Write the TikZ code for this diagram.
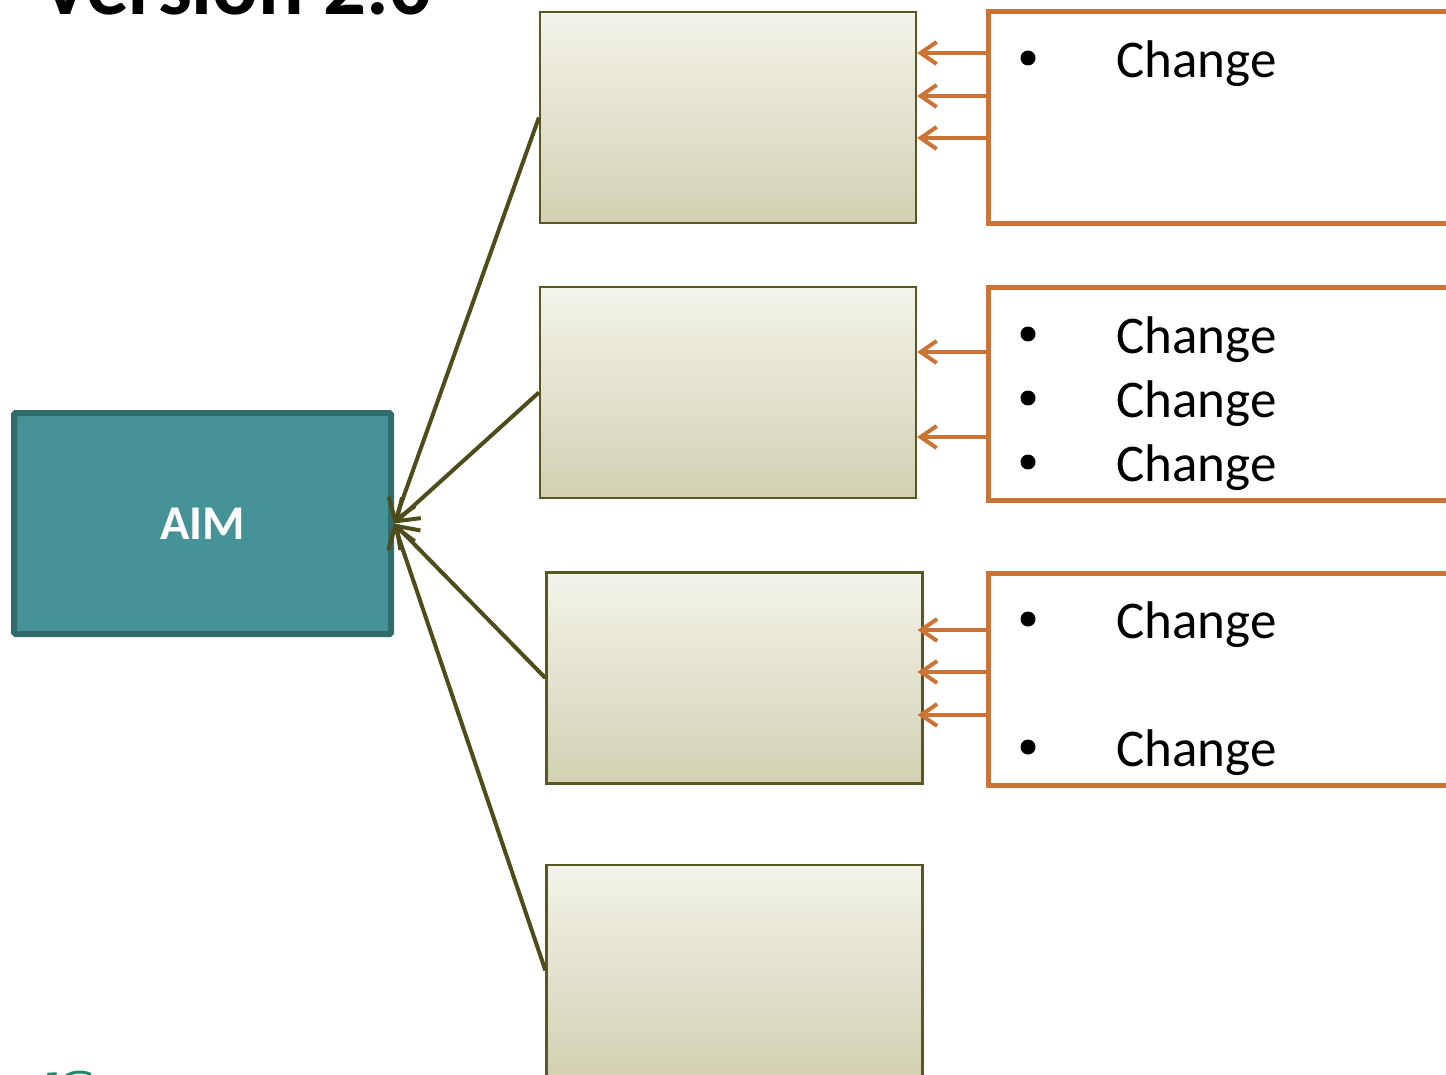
\documentclass[tikz,border=0pt]{standalone}
\usepackage{fontspec}
\setmainfont{Carlito}
\usetikzlibrary{arrows.meta}
\definecolor{aimfill}{HTML}{459396}
\definecolor{aimline}{HTML}{316B6C}
\definecolor{olive}{HTML}{5A5822}
\definecolor{oliveln}{HTML}{4E4C1A}
\definecolor{beigetop}{HTML}{F3F3EA}
\definecolor{beigebot}{HTML}{D3D1B2}
\definecolor{rust}{HTML}{CC7436}
\definecolor{logogreen}{HTML}{1E8A6A}
\tikzset{
  stagebox/.style={draw=olive, line width=2.2pt, top color=beigetop, bottom color=beigebot,
    minimum width=376pt, minimum height=211pt, inner sep=0pt},
  changebox/.style={draw=rust, line width=5pt, fill=white,
    minimum width=520pt, minimum height=212pt, inner sep=0pt},
  aimbox/.style={draw=aimline, fill=aimfill, line width=6pt, rounded corners=1.5pt,
    minimum width=377pt, minimum height=221pt, inner sep=0pt,
    text=white, font=\fontsize{48.5}{52}\selectfont\bfseries},
  feed/.style={draw=oliveln, line width=4pt, -{Straight Barb[length=20pt,width=28pt,line width=4pt]}},
  push/.style={draw=rust, line width=4pt, -{Straight Barb[length=16pt,width=22pt,line width=4pt]}},
  dot/.style={circle, fill=black, inner sep=0pt, minimum size=15pt},
  item/.style={anchor=base west, inner sep=0pt, font=\fontsize{53}{56}\selectfont},
}
\begin{document}
\begin{tikzpicture}[x=1pt,y=-1pt]
\clip (0,0) rectangle (1446,1075);
\fill[white] (0,0) rectangle (1446,1075);

% title, running off the top edge
\node[anchor=base west, inner sep=0pt, font=\fontsize{85}{90}\selectfont\bfseries] (title) at (40,15) {Version 2.0};

% aim
\node[aimbox] (aim) at (202.5,523.5) {AIM};

% stages
\node[stagebox] (b1) at (728,117.5) {};
\node[stagebox] (b2) at (728,392.5) {};
\node[stagebox] (b3) at (734.5,678) {};
\node[stagebox] (b4) at (734.5,970.5) {};

% change boxes (open to the right)
\node[changebox] (o1) at (1248,118) {};
\node[changebox] (o2) at (1248,394) {};
\node[changebox] (o3) at (1248,679) {};

% stages feed the aim
\draw[feed] (b1.west) -- (aim.east);
\draw[feed] (b2.west) -- (aim.east);
\draw[feed] (b3.west) -- (aim.east);
\draw[feed] (b4.west) -- (aim.east);

% changes push into the stages
\draw[push] (o1.west |- 0,53)  -- (b1.east |- 0,53);
\draw[push] (o1.west |- 0,96)  -- (b1.east |- 0,96);
\draw[push] (o1.west |- 0,138) -- (b1.east |- 0,138);
\draw[push] (o2.west |- 0,352) -- (b2.east |- 0,352);
\draw[push] (o2.west |- 0,437) -- (b2.east |- 0,437);
\draw[push] (o3.west |- 0,630) -- ([xshift=-6pt]b3.east |- 0,630);
\draw[push] (o3.west |- 0,672) -- ([xshift=-6pt]b3.east |- 0,672);
\draw[push] (o3.west |- 0,715) -- ([xshift=-6pt]b3.east |- 0,715);

% bullet lists
\node[dot] (d1) at (1028,58) {};
\node[item] (c1) at (1116,78) {Change};
\node[dot] (d2) at (1028,334) {};
\node[item] (c2) at (1116,353) {Change};
\node[dot] (d3) at (1028,398) {};
\node[item] (c3) at (1116,417) {Change};
\node[dot] (d4) at (1028,462) {};
\node[item] (c4) at (1116,481) {Change};
\node[dot] (d5) at (1028,619) {};
\node[item] (c5) at (1116,638) {Change};
\node[dot] (d6) at (1028,747) {};
\node[item] (c6) at (1116,766) {Change};

% logo edge at the bottom
\draw[logogreen, line width=2.5pt, line cap=round] (48,1074) -- (56,1073.5);
\draw[logogreen, line width=3pt, line cap=round] (66,1076) .. controls (74,1071) and (82,1071) .. (90,1074);
\end{tikzpicture}
\end{document}
